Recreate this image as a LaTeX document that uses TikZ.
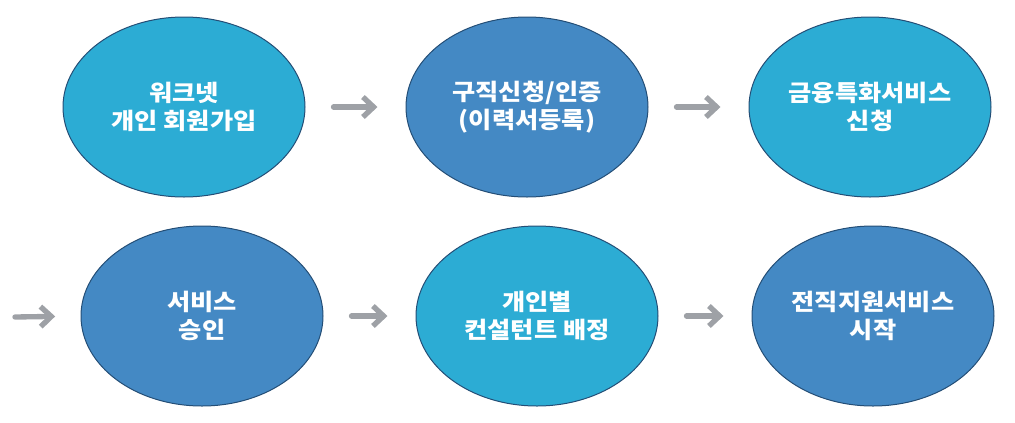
\documentclass[tikz,border=0pt]{standalone}
\usepackage{fontspec}
\newfontfamily\krfont[FakeStretch=1.1]{Noto Sans CJK KR}
\usetikzlibrary{shapes.geometric,arrows.meta}

\definecolor{stagelight}{RGB}{44,172,212}
\definecolor{stagedark}{RGB}{68,137,196}
\definecolor{stageedge}{RGB}{36,78,118}
\definecolor{flowgray}{RGB}{158,161,166}

\tikzset{every picture/.style={line width=0.75pt}}

\begin{document}
\begin{tikzpicture}[x=0.75pt,y=0.75pt,yscale=-1,xscale=1,
  stage/.style={ellipse, draw=stageedge, minimum width=181.5pt, minimum height=135pt, inner sep=0pt, align=center, text=white, font=\krfont\bfseries\fontsize{17.2}{21}\selectfont},
  flow/.style={draw=flowgray, line width=4pt, line cap=round, -{Straight Barb[length=8pt,width=15pt]}, shorten <=21pt, shorten >=21pt}]
        %set diagram left start at 0, and has height of 422
        \useasboundingbox (0,0) rectangle (1015,422);
        % Ellipses, first row
        \node [stage, fill=stagelight] (join) at (184,107) {워크넷\\개인 회원가입};
        \node [stage, fill=stagedark] (apply) at (527,107) {구직신청/인증\\(이력서등록)};
        \node [stage, fill=stagelight] (finance) at (870,107) {금융특화서비스\\신청};
        % Ellipses, second row
        \node [stage, fill=stagedark] (approve) at (202,316) {서비스\\승인};
        \node [stage, fill=stagelight] (consult) at (537,316) {개인별\\컨설턴트 배정};
        \node [stage, fill=stagedark] (begin) at (873,316) {전직지원서비스\\시작};
        % Arrows
        \coordinate (carry) at (15,317);
        \draw [flow] (join) -- (apply);
        \draw [flow] (apply) -- (finance);
        \draw [flow, shorten <=0pt, shorten >=19pt] (carry) -- (approve.west);
        \draw [flow] (approve) -- (consult);
        \draw [flow] (consult) -- (begin);
\end{tikzpicture}
\end{document}
